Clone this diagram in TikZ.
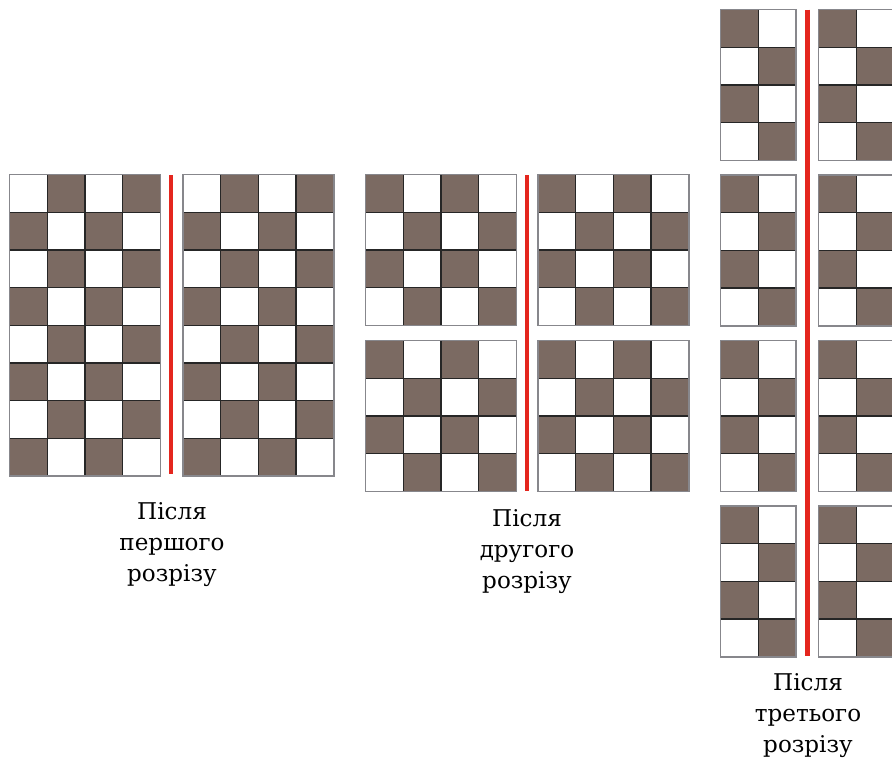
\documentclass[tikz,border=0pt]{standalone}
\usepackage{fontspec}
\setmainfont{DejaVu Serif}
\usepackage{tikz}
\usetikzlibrary{positioning}
\usepackage{xcolor}
\definecolor{CellBrown}{RGB}{123,106,98}
\definecolor{CutRed}{RGB}{228,38,30}
\definecolor{FrameGray}{RGB}{135,135,140}

\newcommand{\cellsize}{37.7}
% piece of the board: left, top, columns, rows, parity (1 = dark corner)
\newcommand{\checkerpiece}[5]{%
  \foreach \i in {1,...,#3}{%
    \foreach \j in {1,...,#4}{%
      \pgfmathtruncatemacro{\odd}{mod(\i+\j+#5,2)}%
      \ifnum\odd=1 \def\cellfill{CellBrown}\else\def\cellfill{white}\fi
      \draw[cell, fill=\cellfill] ({#1+(\i-1)*\cellsize},{#2+(\j-1)*\cellsize})
        rectangle ++(\cellsize,\cellsize);
    }}%
  \draw[frame] (#1,#2) rectangle ++({#3*\cellsize},{#4*\cellsize});
}

\begin{document}
\begin{tikzpicture}[
    x=0.75pt, y=-0.75pt,
    cell/.style={draw=black!85, line width=0.95pt},
    frame/.style={draw=FrameGray, line width=1.1pt},
    cut/.style={draw=CutRed, line width=3.7pt},
    caption/.style={anchor=north, align=center, inner sep=0pt,
                    font=\fontsize{17.3}{23.5}\selectfont}
]
    \useasboundingbox[fill=white] (0,0) rectangle (892,758);
    % after the first cut
    \checkerpiece{9.5}{174.5}{4}{8}{0}
    \checkerpiece{183}{174.5}{4}{8}{0}
    \draw[cut] (171,175) -- (171,474);
    \node[caption] (first) at (172,502) {Після\\першого\\розрізу};
    % after the second cut
    \checkerpiece{365.5}{174.5}{4}{4}{1}
    \checkerpiece{538}{174.5}{4}{4}{1}
    \checkerpiece{365.5}{340.5}{4}{4}{1}
    \checkerpiece{538}{340.5}{4}{4}{1}
    \draw[cut] (527,175) -- (527,491);
    \node[caption] (second) at (527,509) {Після\\другого\\розрізу};
    % after the third cut
    \foreach \top in {9.5,175,340.5,506}{
        \checkerpiece{720.5}{\top}{2}{4}{1}
        \checkerpiece{818.5}{\top}{2}{4}{1}
    }
    \draw[cut] (807.5,9.5) -- (807.5,656);
    \node[caption] (third) at (808,673) {Після\\третього\\розрізу};
\end{tikzpicture}
\end{document}
